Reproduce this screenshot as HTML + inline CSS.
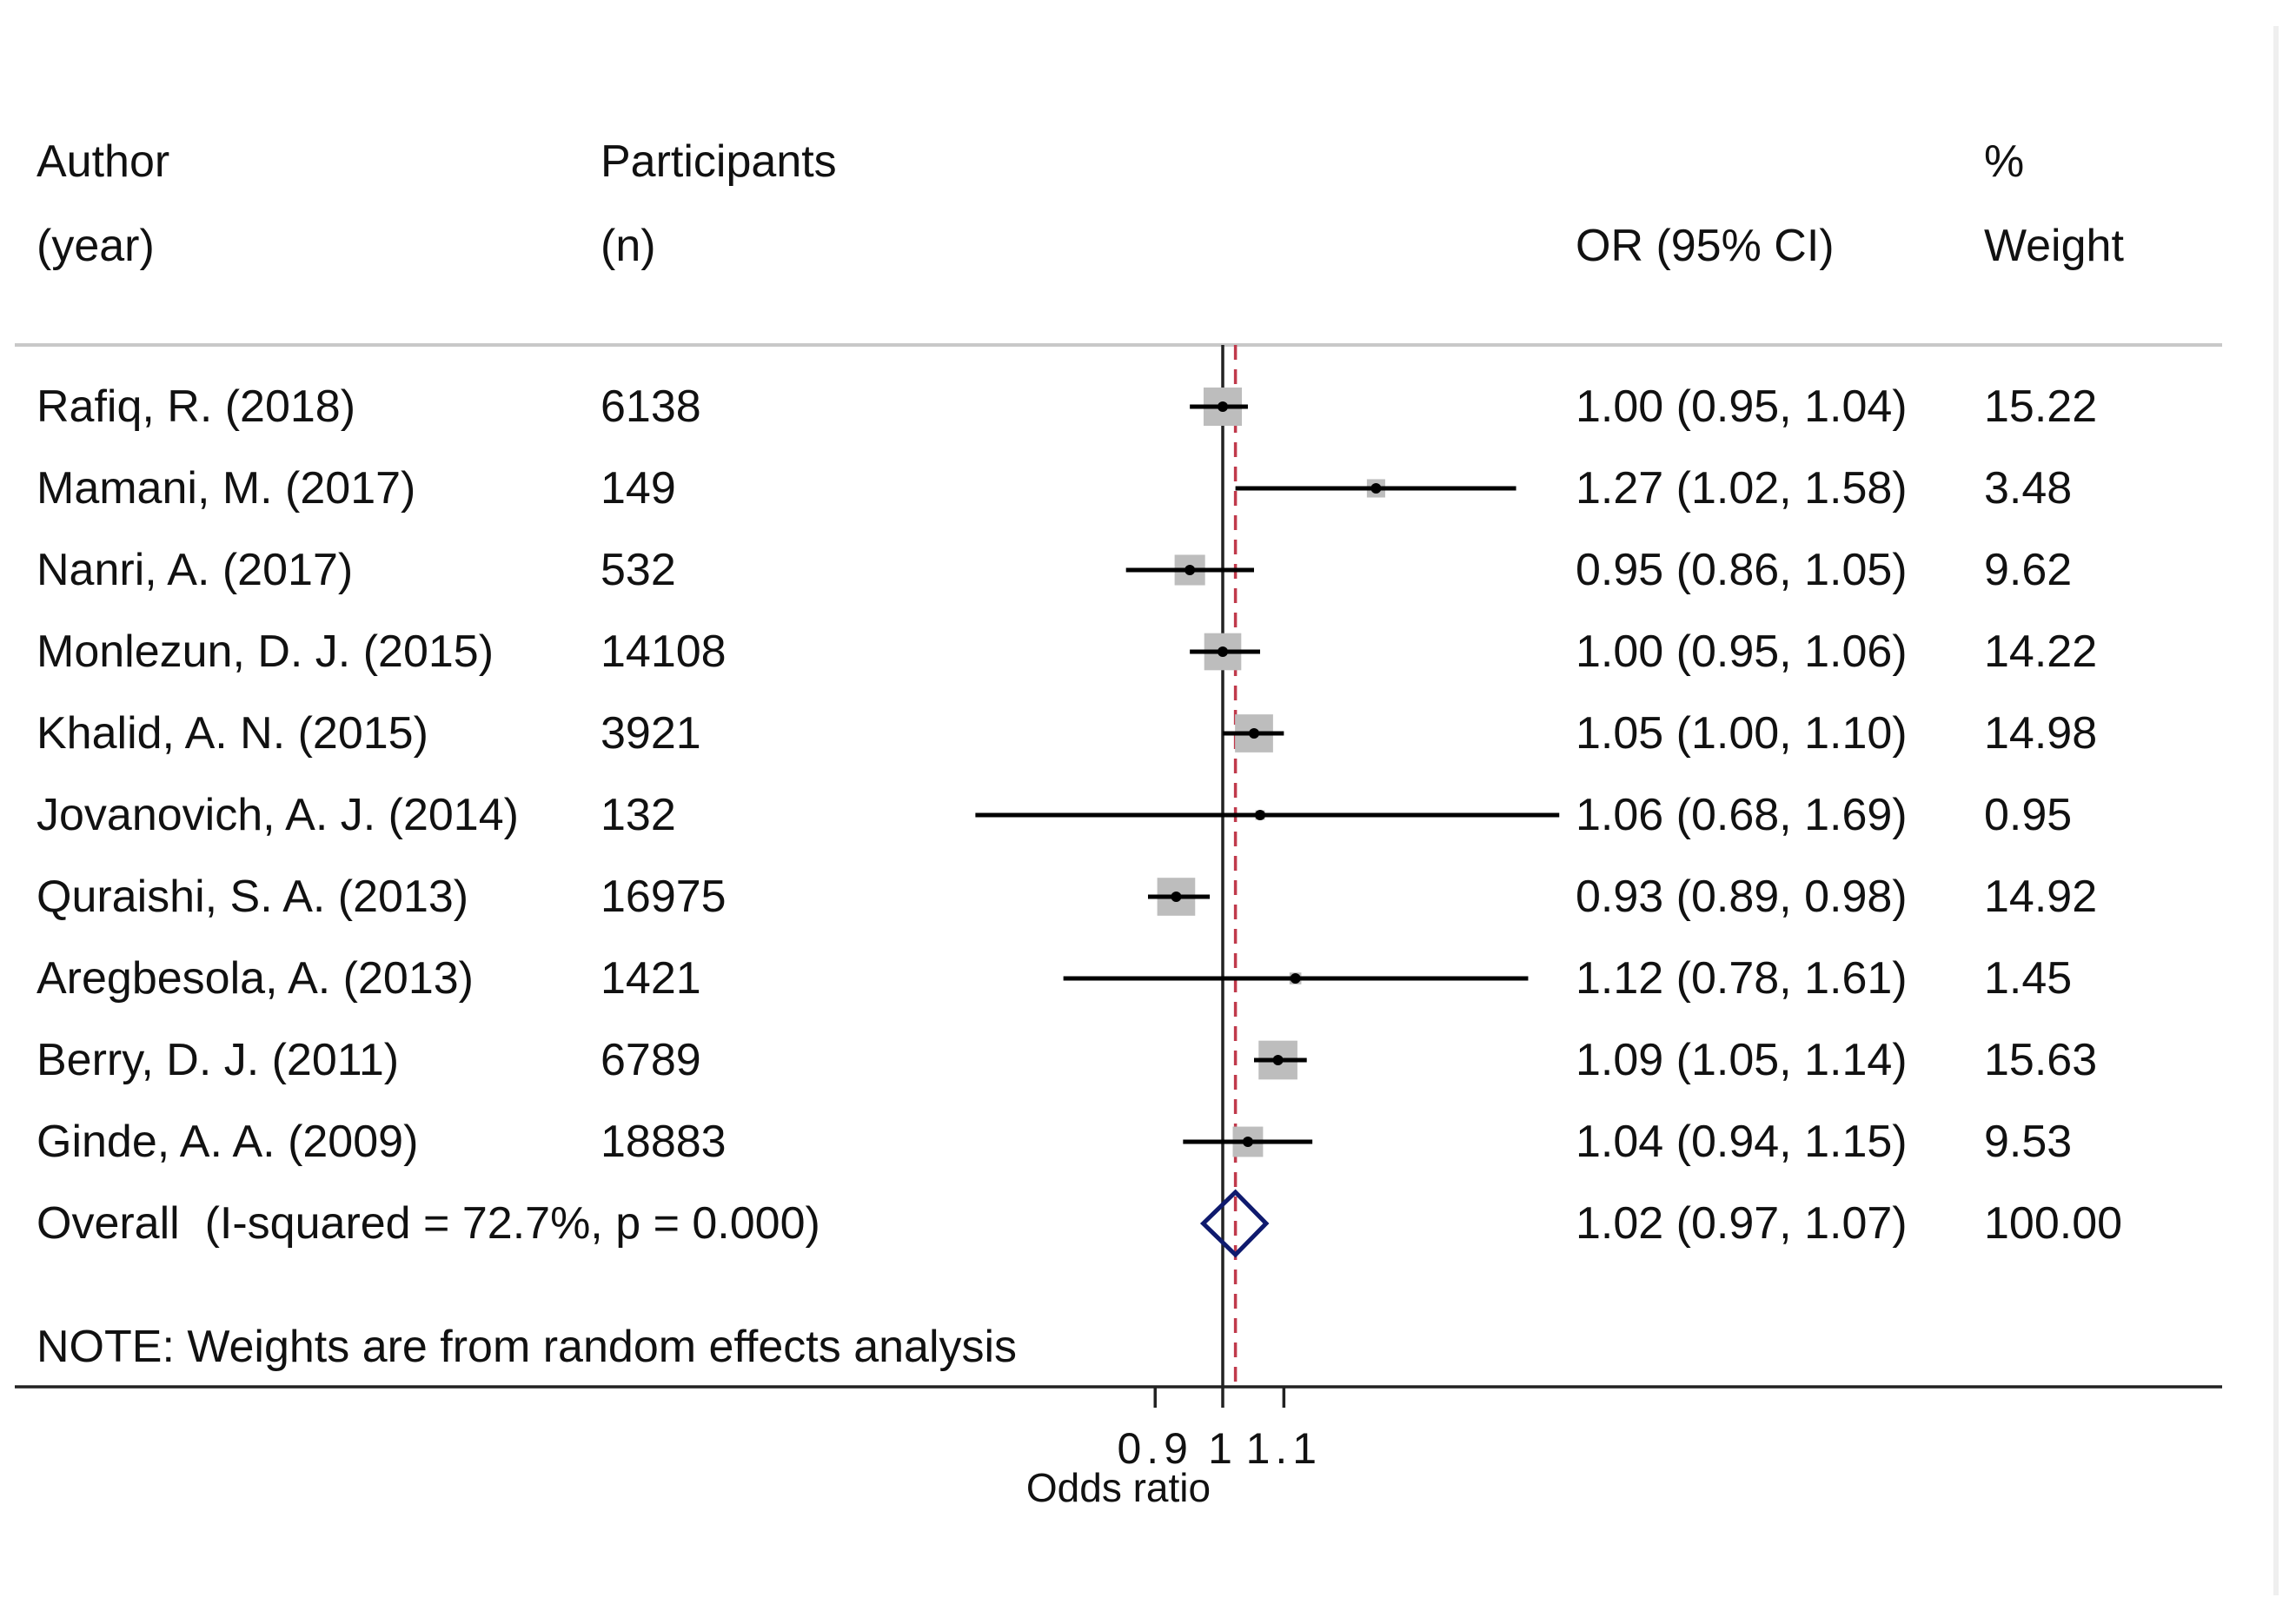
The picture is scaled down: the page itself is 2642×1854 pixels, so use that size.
<!DOCTYPE html>
<html><head><meta charset="utf-8"><style>
html,body{margin:0;padding:0;background:#fff;}
svg{display:block;}
text{font-family:"Liberation Sans",Arial,sans-serif;fill:#111;}
</style></head><body>
<svg id="chart" width="2642" height="1854" viewBox="0 0 2642 1854" xmlns="http://www.w3.org/2000/svg">
<rect x="0" y="0" width="2642" height="1854" fill="#fff"/>
<rect x="2616" y="30" width="6" height="1806" fill="#efefef"/>
<g font-size="52">
<text x="42" y="203">Author</text>
<text x="42" y="300">(year)</text>
<text x="691" y="203">Participants</text>
<text x="691" y="300">(n)</text>
<text x="1813" y="300">OR (95% CI)</text>
<text x="2283" y="203">%</text>
<text x="2283" y="300">Weight</text>
</g>
<line x1="17" y1="397" x2="2557" y2="397" stroke="#c8c8c8" stroke-width="4"/>
<g id="rows"></g>
<g id="marks"></g>
<text x="42" y="1567" font-size="52">NOTE: Weights are from random effects analysis</text>
<line x1="17" y1="1596" x2="2557" y2="1596" stroke="#222" stroke-width="3.5"/>
<g id="axis"></g>
<text x="1287" y="1728" font-size="46" text-anchor="middle">Odds ratio</text>
</svg>
<script>
const authors=["Rafiq, R. (2018)","Mamani, M. (2017)","Nanri, A. (2017)","Monlezun, D. J. (2015)","Khalid, A. N. (2015)","Jovanovich, A. J. (2014)","Quraishi, S. A. (2013)","Aregbesola, A. (2013)","Berry, D. J. (2011)","Ginde, A. A. (2009)"];
const participants=["6138","149","532","14108","3921","132","16975","1421","6789","18883"];
const orVals=[1.00,1.27,0.95,1.00,1.05,1.06,0.93,1.12,1.09,1.04];
const lowVals=[0.95,1.02,0.86,0.95,1.00,0.68,0.89,0.78,1.05,0.94];
const highVals=[1.04,1.58,1.05,1.06,1.10,1.69,0.98,1.61,1.14,1.15];
const weights=[15.22,3.48,9.62,14.22,14.98,0.95,14.92,1.45,15.63,9.53];
const overallLabel="Overall  (I-squared = 72.7%, p = 0.000)";
const overallOR=1.02, overallLow=0.97, overallHigh=1.07, overallWeight="100.00";
const tickVals=[0.9,1,1.1];
const tickLabels=["0.9","1","1.1"];

const NS="http://www.w3.org/2000/svg";
const X0=1407, K=738;
function sx(v){return X0+K*Math.log(v);}
function rowY(i){return 468+i*94;}
function mk(tag,attrs,parent,txt){const e=document.createElementNS(NS,tag);for(const k in attrs)e.setAttribute(k,attrs[k]);if(txt!==undefined)e.textContent=txt;parent.appendChild(e);return e;}
const rows=document.getElementById('rows'), marks=document.getElementById('marks'), axis=document.getElementById('axis');
const fmt=v=>v.toFixed(2);

let l=mk('line',{x1:sx(1),y1:397,x2:sx(1),y2:1596,stroke:'#222','stroke-width':3.5},marks);


l=mk('line',{x1:sx(overallOR),y1:397,x2:sx(overallOR),y2:1596,stroke:'#c0394b','stroke-width':3.5,'stroke-dasharray':'17 11'},marks);



for(let i=0;i<authors.length;i++){
  const y=rowY(i), b=y+17;
  let t=mk('text',{x:42,y:b,'font-size':52},rows,authors[i]);
  
  
  t=mk('text',{x:691,y:b,'font-size':52},rows,participants[i]);
  
  
  t=mk('text',{x:1813,y:b,'font-size':52},rows,fmt(orVals[i])+" ("+fmt(lowVals[i])+", "+fmt(highVals[i])+")");
  
  
  t=mk('text',{x:2283,y:b,'font-size':52},rows,fmt(weights[i]));
  
  
  const s=11.3*Math.sqrt(weights[i]);
  const sq=mk('rect',{x:sx(orVals[i])-s/2,y:y-s/2,width:s,height:s,fill:'#bdbdbd'},marks);
  
  
  const ci=mk('line',{x1:sx(lowVals[i]),y1:y,x2:sx(highVals[i]),y2:y,stroke:'#000','stroke-width':5},marks);
  
  
  const d=mk('circle',{cx:sx(orVals[i]),cy:y,r:6,fill:'#000'},marks);
  
  
}
const oy=rowY(10), ob=oy+17;
let t=mk('text',{x:42,y:ob,'font-size':52},rows,overallLabel);
t.style.whiteSpace='pre';


t=mk('text',{x:1813,y:ob,'font-size':52},rows,fmt(overallOR)+" ("+fmt(overallLow)+", "+fmt(overallHigh)+")");


t=mk('text',{x:2283,y:ob,'font-size':52},rows,overallWeight);


const dm=mk('polygon',{points:[sx(overallLow)+','+oy,sx(overallOR)+','+(oy-36),sx(overallHigh)+','+oy,sx(overallOR)+','+(oy+36)].join(' '),fill:'none',stroke:'#0f1a6e','stroke-width':5},marks);



for(let i=0;i<tickVals.length;i++){
  const x=sx(tickVals[i]);
  const tk=mk('line',{x1:x,y1:1596,x2:x,y2:1620,stroke:'#222','stroke-width':3.5},axis);
  
  
  const tl=mk('text',{x:x,y:1684,'font-size':50,'text-anchor':'middle','letter-spacing':'6'},axis,tickLabels[i]);
  
  
}
</script>
</body></html>
